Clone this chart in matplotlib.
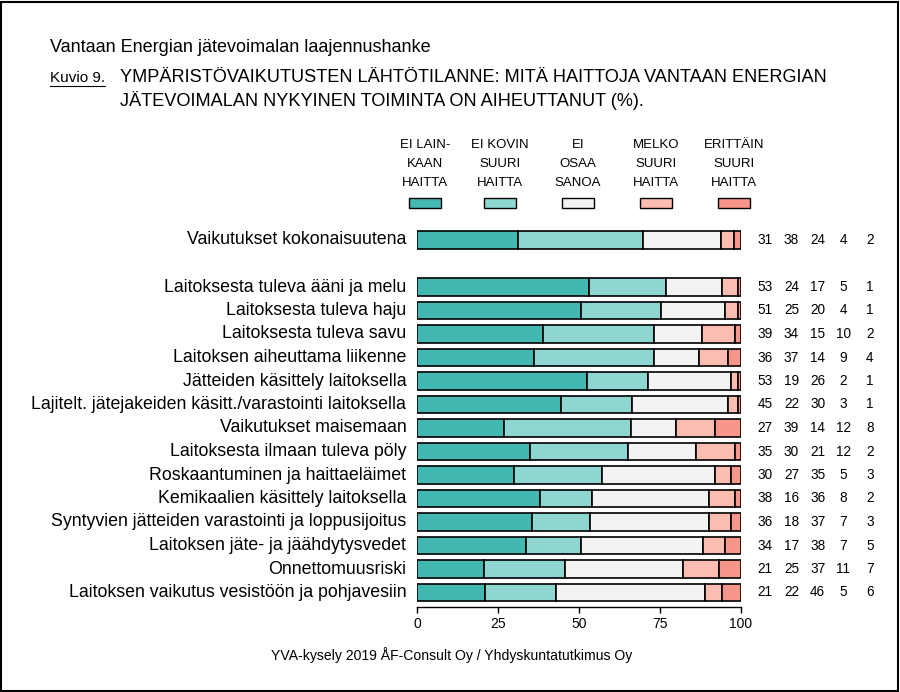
import matplotlib
matplotlib.use("Agg")
import matplotlib.pyplot as plt
import numpy as np
from matplotlib.patches import Rectangle
from matplotlib.lines import Line2D

plt.rcParams["font.family"] = ["Liberation Sans", "DejaVu Sans"]

categories = [
    "Vaikutukset kokonaisuutena",
    "Laitoksesta tuleva ääni ja melu",
    "Laitoksesta tuleva haju",
    "Laitoksesta tuleva savu",
    "Laitoksen aiheuttama liikenne",
    "Jätteiden käsittely laitoksella",
    "Lajitelt. jätejakeiden käsitt./varastointi laitoksella",
    "Vaikutukset maisemaan",
    "Laitoksesta ilmaan tuleva pöly",
    "Roskaantuminen ja haittaeläimet",
    "Kemikaalien käsittely laitoksella",
    "Syntyvien jätteiden varastointi ja loppusijoitus",
    "Laitoksen jäte- ja jäähdytysvedet",
    "Onnettomuusriski",
    "Laitoksen vaikutus vesistöön ja pohjavesiin",
]
ei_lainkaan = [31, 53, 51, 39, 36, 53, 45, 27, 35, 30, 38, 36, 34, 21, 21]
ei_kovin = [38, 24, 25, 34, 37, 19, 22, 39, 30, 27, 16, 18, 17, 25, 22]
ei_osaa = [24, 17, 20, 15, 14, 26, 30, 14, 21, 35, 36, 37, 38, 37, 46]
melko = [4, 5, 4, 10, 9, 2, 3, 12, 12, 5, 8, 7, 7, 11, 5]
erittain = [2, 1, 1, 2, 4, 1, 1, 8, 2, 3, 2, 3, 5, 7, 6]
legend_labels = [
    "EI LAIN-\nKAAN\nHAITTA",
    "EI KOVIN\nSUURI\nHAITTA",
    "EI\nOSAA\nSANOA",
    "MELKO\nSUURI\nHAITTA",
    "ERITTÄIN\nSUURI\nHAITTA",
]
xticks = [0, 25, 50, 75, 100]

colors = ["#42b8b1", "#8ed7d0", "#f3f3f3", "#fbbdb2", "#f8958a"]

W, H = 900, 692
fig = plt.figure(figsize=(W / 100, H / 100), dpi=100)

# axes: x 0..100 -> px 417..741 ; rows at px 240 + 23.5*pos
px_l, px_r = 417, 741
px_top, px_bot = 130, 607
row0, step = 240, 23.5
ax = fig.add_axes([px_l / W, 1 - px_bot / H, (px_r - px_l) / W, (px_bot - px_top) / H])
ax.set_xlim(0, 100)
ax.set_ylim((px_bot - row0) / step, (px_top - row0) / step)

series = np.array([ei_lainkaan, ei_kovin, ei_osaa, melko, erittain], dtype=float)
shares = series / series.sum(axis=0) * 100
pos = np.array([0] + list(range(2, len(categories) + 1)))

left = np.zeros(len(categories))
for k in range(5):
    ax.barh(pos, shares[k], left=left, height=0.75, color=colors[k],
            edgecolor="black", linewidth=1.2)
    left += shares[k]

for p, cat in zip(pos, categories):
    ax.text(-3.3, p, cat, ha="right", va="center", fontsize=12.8, clip_on=False)

num_x = [107.5, 115.6, 123.7, 131.5, 139.8]
for i, p in enumerate(pos):
    for k in range(5):
        ax.text(num_x[k], p, f"{int(series[k, i])}", ha="center", va="center",
                fontsize=9.8, clip_on=False)

# legend
leg_x = [2.5, 25.6, 49.7, 73.8, 97.8]
box_w, box_h = 9.9, 0.45
box_y = (203 - row0) / step
line_y = [(145 - row0) / step, (164 - row0) / step, (183 - row0) / step]
for k in range(5):
    ax.add_patch(Rectangle((leg_x[k] - box_w / 2, box_y - box_h / 2), box_w, box_h,
                           facecolor=colors[k], edgecolor="black", linewidth=1.0,
                           clip_on=False))
    for j, line in enumerate(legend_labels[k].split("\n")):
        ax.text(leg_x[k], line_y[j], line, ha="center", va="center", fontsize=9.5,
                clip_on=False)

for s in ["top", "left", "right"]:
    ax.spines[s].set_visible(False)
ax.spines["bottom"].set_bounds(0, 100)
ax.spines["bottom"].set_linewidth(1.0)
ax.set_xticks(xticks)
ax.set_xticklabels([str(t) for t in xticks], fontsize=10)
ax.tick_params(axis="x", length=4, width=1.0, pad=3)
ax.set_yticks([])

fig.text(50 / W, 1 - 48 / H, "Vantaan Energian jätevoimalan laajennushanke",
         fontsize=13, va="center")
kuvio = fig.text(50 / W, 1 - 78 / H, "Kuvio 9.", fontsize=11, va="center")
fig.text(120 / W, 1 - 78 / H, "YMPÄRISTÖVAIKUTUSTEN LÄHTÖTILANNE: MITÄ HAITTOJA VANTAAN ENERGIAN",
         fontsize=13.1, va="center")
fig.text(120 / W, 1 - 100 / H, "JÄTEVOIMALAN NYKYINEN TOIMINTA ON AIHEUTTANUT (%).",
         fontsize=13.1, va="center")
fig.text(452 / W, 1 - 655 / H, "YVA-kysely 2019 ÅF-Consult Oy / Yhdyskuntatutkimus Oy",
         fontsize=10.1, ha="center", va="center")

fig.canvas.draw()
bb = kuvio.get_window_extent()
fig.add_artist(Line2D([bb.x0 / W, bb.x1 / W], [(bb.y0 - 1) / H, (bb.y0 - 1) / H],
                      color="black", linewidth=0.8, transform=fig.transFigure))

fig.add_artist(Rectangle((1 / W, 1 / H), (W - 3) / W, (H - 3) / H, transform=fig.transFigure,
                         fill=False, edgecolor="black", linewidth=1.5))

fig.savefig("out.png", dpi=100)
